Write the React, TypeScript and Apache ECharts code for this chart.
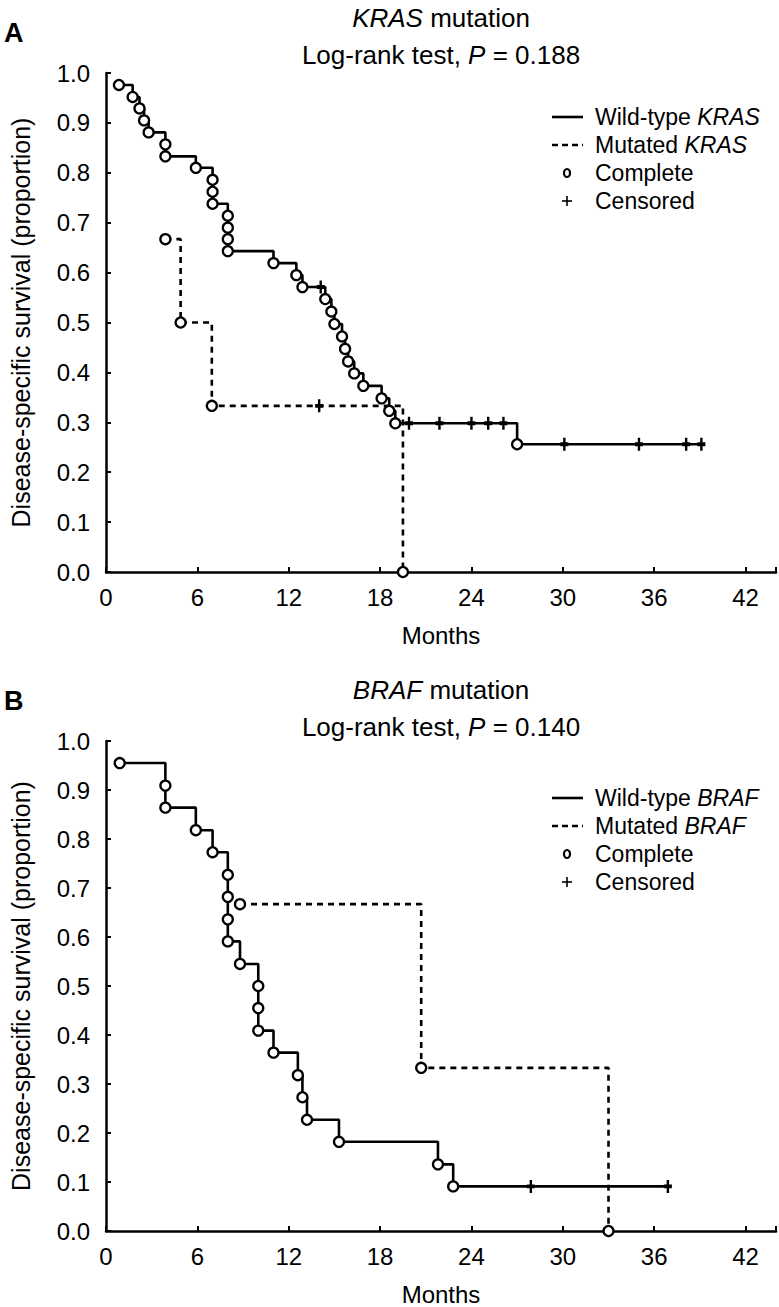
import React, { useEffect, useRef } from "react";
import * as echarts from "echarts";

// ---------- Panel A: KRAS ----------
const kWtEventT = [0.85, 1.75, 2.2, 2.5, 2.8, 3.9, 3.9, 5.9, 7.0, 7.0, 7.0, 8.0, 8.0, 8.0, 8.0, 11.0, 12.5, 12.9, 14.4, 14.8, 15.0, 15.5, 15.7, 15.9, 16.3, 16.9, 18.1, 18.6, 19.0, 27.0];
const kWtEventS = [0.976, 0.952, 0.929, 0.905, 0.881, 0.857, 0.833, 0.81, 0.786, 0.762, 0.738, 0.714, 0.69, 0.667, 0.643, 0.619, 0.595, 0.571, 0.547, 0.522, 0.497, 0.472, 0.447, 0.422, 0.398, 0.373, 0.348, 0.323, 0.298, 0.256];
const kWtCensT = [14.1, 19.9, 21.9, 24.0, 25.1, 26.1, 30.1, 35.0, 38.1, 39.1];
const kWtCensS = [0.571, 0.298, 0.298, 0.298, 0.298, 0.298, 0.256, 0.256, 0.256, 0.256];
const kMutEventT = [3.9, 4.9, 6.95, 19.5];
const kMutEventS = [0.667, 0.5, 0.333, 0.0];
const kMutCensT = [14.0];
const kMutCensS = [0.333];

// ---------- Panel B: BRAF ----------
const bWtEventT = [0.9, 3.9, 3.9, 5.9, 7.0, 8.0, 8.0, 8.0, 8.0, 8.8, 10.0, 10.0, 10.0, 11.0, 12.6, 12.9, 13.2, 15.3, 21.8, 22.8];
const bWtEventS = [0.955, 0.909, 0.864, 0.818, 0.773, 0.727, 0.682, 0.636, 0.591, 0.545, 0.5, 0.455, 0.409, 0.364, 0.318, 0.273, 0.227, 0.182, 0.136, 0.091];
const bWtCensT = [27.9, 36.9];
const bWtCensS = [0.091, 0.091];
const bMutEventT = [8.8, 20.7, 33.0];
const bMutEventS = [0.667, 0.333, 0.0];
const bMutCensT: number[] = [];
const bMutCensS: number[] = [];

const xTickInterval = 6;
const xMax = 44;
const xLastLabel = 42;
const yTickInterval = 0.1;

const FONT = '"Liberation Sans", Arial, Helvetica, sans-serif';
const PLUS = "path://M3.5,0H6.5V3.5H10V6.5H6.5V10H3.5V6.5H0V3.5H3.5Z";

function pairs(t: number[], s: number[]) {
  return t.map((v, i) => [v, s[i]]);
}
function stepData(et: number[], es: number[], ct: number[], cs: number[]) {
  const all = [...pairs(et, es), ...pairs(ct, cs)];
  all.sort((a, b) => a[0] - b[0] || b[1] - a[1]);
  return all;
}

const panels = [
  {
    gene: "KRAS", p: "0.188", letter: "A",
    wt: [kWtEventT, kWtEventS, kWtCensT, kWtCensS],
    mut: [kMutEventT, kMutEventS, kMutCensT, kMutCensS],
    top: 73, height: 499, titleY: 18, letterY: 33, legendY: 117,
  },
  {
    gene: "BRAF", p: "0.140", letter: "B",
    wt: [bWtEventT, bWtEventS, bWtCensT, bWtCensS],
    mut: [bMutEventT, bMutEventS, bMutCensT, bMutCensS],
    top: 741, height: 492, titleY: 690, letterY: 701, legendY: 798,
  },
];

export default function App() {
  const ref = useRef<HTMLDivElement>(null);
  useEffect(() => {
    if (!ref.current) return;
    const chart = echarts.init(ref.current, null, { renderer: "svg" });
    const grid: any[] = [];
    const xAxis: any[] = [];
    const yAxis: any[] = [];
    const series: any[] = [];
    const graphic: any[] = [];
    const rich = {
      n: { fontFamily: FONT, fontSize: 26, color: "#000" },
      i: { fontFamily: FONT, fontSize: 26, fontStyle: "italic", color: "#000" },
    };
    const lrich = {
      n: { fontFamily: FONT, fontSize: 23, color: "#000" },
      i: { fontFamily: FONT, fontSize: 23, fontStyle: "italic", color: "#000" },
    };
    panels.forEach((pn, k) => {
      grid.push({ left: 100, right: 3, top: pn.top, height: pn.height });
      xAxis.push({
        gridIndex: k, type: "value", min: 0, max: xMax, interval: xTickInterval,
        axisLine: { lineStyle: { color: "#000", width: 2.5 } },
        axisTick: { inside: true, length: 5, lineStyle: { color: "#000", width: 2 } },
        axisLabel: { color: "#000", fontSize: 24, fontFamily: FONT, margin: 13,
          formatter: (v: number) => (v > xLastLabel ? "" : String(v)) },
        splitLine: { show: false },
        name: "Months", nameLocation: "middle", nameGap: 51,
        nameTextStyle: { color: "#000", fontSize: 24, fontFamily: FONT },
      });
      yAxis.push({
        gridIndex: k, type: "value", min: 0, max: 1, interval: yTickInterval,
        axisLine: { show: true, lineStyle: { color: "#000", width: 2.5 } },
        axisTick: { show: true, inside: true, length: 5, lineStyle: { color: "#000", width: 2 } },
        axisLabel: { color: "#000", fontSize: 24, fontFamily: FONT, margin: 16,
          formatter: (v: number) => v.toFixed(1) },
        splitLine: { show: false },
        name: "Disease-specific survival (proportion)", nameLocation: "middle", nameGap: 73,
        nameTextStyle: { color: "#000", fontSize: 25, fontFamily: FONT },
      });
      const [wet, wes, wct, wcs] = pn.wt as number[][];
      const [met, mes, mct, mcs] = pn.mut as number[][];
      series.push({
        type: "line", name: "Wild-type " + pn.gene, xAxisIndex: k, yAxisIndex: k,
        step: "end", data: stepData(wet, wes, wct, wcs), showSymbol: false, symbol: "none",
        lineStyle: { color: "#000", width: 2.6 }, z: 2,
      });
      series.push({
        type: "line", name: "Mutated " + pn.gene, xAxisIndex: k, yAxisIndex: k,
        step: "end", data: stepData(met, mes, mct, mcs), showSymbol: false, symbol: "none",
        lineStyle: { color: "#000", width: 2.6, type: [6, 5] }, z: 2,
      });
      series.push({
        type: "scatter", name: "Complete", xAxisIndex: k, yAxisIndex: k,
        data: [...pairs(wet, wes), ...pairs(met, mes)],
        symbol: "circle", symbolSize: 10,
        itemStyle: { color: "#fff", borderColor: "#000", borderWidth: 2.3, opacity: 1 }, z: 4,
      });
      series.push({
        type: "scatter", name: "Censored", xAxisIndex: k, yAxisIndex: k,
        data: [...pairs(wct, wcs), ...pairs(mct, mcs)],
        symbol: PLUS, symbolSize: [8, 13],
        itemStyle: { color: "#000", opacity: 1 }, z: 3,
      });

      // panel letter and titles
      graphic.push({ type: "text", x: 4, y: pn.letterY, style: {
        text: pn.letter, fontFamily: FONT, fontSize: 27, fontWeight: "bold", fill: "#000",
        verticalAlign: "middle", align: "left" } });
      graphic.push({ type: "text", x: 441, y: pn.titleY, style: {
        text: `{i|${pn.gene}}{n| mutation}`, rich, align: "center", verticalAlign: "middle",
        fontFamily: FONT, fontSize: 26, fill: "#000" } });
      graphic.push({ type: "text", x: 441, y: pn.titleY + 37, style: {
        text: `{n|Log-rank test, }{i|P}{n| = ${pn.p}}`, rich, align: "center", verticalAlign: "middle",
        fontFamily: FONT, fontSize: 26, fill: "#000" } });

      // legend
      const ly = pn.legendY;
      const gap = 28;
      graphic.push({ type: "line", shape: { x1: 552, y1: ly, x2: 583, y2: ly },
        style: { stroke: "#000", lineWidth: 2.6 } });
      graphic.push({ type: "line", shape: { x1: 552, y1: ly + gap, x2: 583, y2: ly + gap },
        style: { stroke: "#000", lineWidth: 2.6, lineDash: [6, 4] } });
      graphic.push({ type: "ellipse", shape: { cx: 567, cy: ly + 2 * gap, rx: 3, ry: 4 },
        style: { stroke: "#000", fill: "#fff", lineWidth: 2.2 } });
      graphic.push({ type: "line", shape: { x1: 562, y1: ly + 3 * gap, x2: 572, y2: ly + 3 * gap },
        style: { stroke: "#000", lineWidth: 1.6 } });
      graphic.push({ type: "line", shape: { x1: 567, y1: ly + 3 * gap - 5, x2: 567, y2: ly + 3 * gap + 5 },
        style: { stroke: "#000", lineWidth: 1.6 } });
      const labels = [
        `{n|Wild-type }{i|${pn.gene}}`,
        `{n|Mutated }{i|${pn.gene}}`,
        `{n|Complete}`,
        `{n|Censored}`,
      ];
      labels.forEach((t, j) => {
        graphic.push({ type: "text", x: 595, y: ly + j * gap, style: {
          text: t, rich: lrich, align: "left", verticalAlign: "middle",
          fontFamily: FONT, fontSize: 23, fill: "#000" } });
      });
    });

    chart.setOption({
      animation: false,
      backgroundColor: "#fff",
      grid, xAxis, yAxis, series, graphic,
    });
    return () => chart.dispose();
  }, []);
  return (
    <div
      ref={ref}
      style={{ position: "fixed", left: 0, top: 0, width: 779, height: 1307, background: "#fff" }}
    />
  );
}
